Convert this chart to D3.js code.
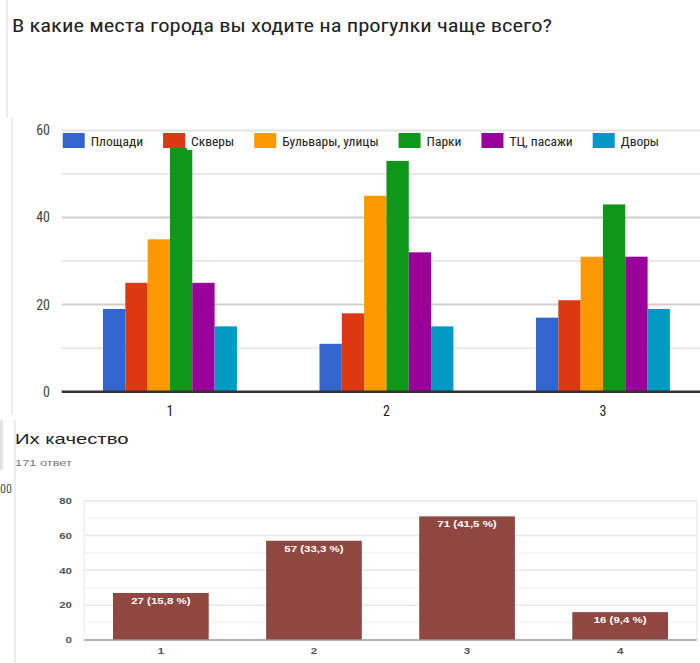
<!DOCTYPE html>
<html>
<head>
<meta charset="utf-8">
<script src="https://cdn.jsdelivr.net/npm/d3@7"></script>
<style>
  html, body { margin: 0; padding: 0; background: #fff; }
  svg { display: block; }
</style>
</head>
<body>
<script>
// --- data: top chart (places for walks) ---
const placeCategories = ["1", "2", "3"];
const seriesNames = ["Площади", "Скверы", "Бульвары, улицы", "Парки", "ТЦ, пасажи", "Дворы"];
const seriesColors = ["#3366cc", "#dc3912", "#ff9900", "#109618", "#990099", "#0099c6"];
const squaresVals = [19, 11, 17];
const publicGardensVals = [25, 18, 21];
const boulevardsVals = [35, 45, 31];
const parksVals = [56, 53, 43];
const mallsVals = [25, 32, 31];
const yardsVals = [15, 15, 19];
const seriesValues = [squaresVals, publicGardensVals, boulevardsVals, parksVals, mallsVals, yardsVals];
const placeTicks = [0, 20, 40, 60];

// --- data: bottom chart (quality) ---
const qualityCategories = ["1", "2", "3", "4"];
const qualityValues = [27, 57, 71, 16];
const qualityPercents = ["15,8", "33,3", "41,5", "9,4"];
const qualityTicks = [0, 20, 40, 60, 80];

const W = 700, H = 663;
const NARROW = '"Liberation Sans Narrow", "Arial Narrow", "Roboto Condensed", "Liberation Sans", sans-serif';
const SANS = 'Arial, "Liberation Sans", sans-serif';
const STRETCH = 1.35; // bottom screenshot is stretched horizontally

const svg = d3.select("body").append("svg")
  .attr("width", W).attr("height", H);

svg.append("rect").attr("width", W).attr("height", H).attr("fill", "#fff");

// left page edges (screenshot artefacts)
svg.append("line").attr("x1", 7).attr("x2", 7).attr("y1", 0).attr("y2", 118)
  .attr("stroke", "#e6e6e6").attr("stroke-width", 1.5);
svg.append("line").attr("x1", 12).attr("x2", 12).attr("y1", 118).attr("y2", 415)
  .attr("stroke", "#e6e6e6").attr("stroke-width", 1.5);
svg.append("line").attr("x1", 15).attr("x2", 15).attr("y1", 420).attr("y2", H)
  .attr("stroke", "#e6e6e6").attr("stroke-width", 1.5);
svg.append("rect").attr("x", 0).attr("y", 420).attr("width", 3).attr("height", 50).attr("fill", "#e2e2e2");
svg.append("text").attr("x", 0).attr("y", 493)
  .attr("font-family", NARROW).attr("font-size", 12).attr("fill", "#555").text("00");

// ---------------- top chart ----------------
svg.append("text")
  .attr("x", 12).attr("y", 32)
  .attr("font-family", NARROW).attr("font-size", 19).attr("fill", "#222")
  .attr("textLength", 540).attr("lengthAdjust", "spacingAndGlyphs")
  .text("В какие места города вы ходите на прогулки чаще всего?");

const topBox = { left: 61.7, right: 711.2, y0: 391.7, y60: 130.4 };

const x0 = d3.scaleBand().domain(placeCategories).range([topBox.left, topBox.right]).padding(0);
const x1 = d3.scaleBand().domain(seriesNames).range([0, x0.bandwidth()])
  .paddingInner(0).paddingOuter(1.85);
const y = d3.scaleLinear().domain([0, 60]).range([topBox.y0, topBox.y60]);

// gridlines
const gTop = svg.append("g");
gTop.selectAll("line.minor").data([10, 30, 50]).join("line")
  .attr("x1", topBox.left).attr("x2", W)
  .attr("y1", (d) => y(d)).attr("y2", (d) => y(d))
  .attr("stroke", "#e8e8e8").attr("stroke-width", 2);
gTop.selectAll("line.major").data([20, 40, 60]).join("line")
  .attr("x1", topBox.left).attr("x2", W)
  .attr("y1", (d) => y(d)).attr("y2", (d) => y(d))
  .attr("stroke", (d) => (d === 60 ? "#e4e4e4" : "#cfcfcf")).attr("stroke-width", 2);

// y axis labels
const yAxis = d3.axisLeft(y).tickValues(placeTicks).tickSize(0).tickPadding(0);
const yG = svg.append("g").attr("transform", `translate(50,0)`).call(yAxis);
yG.select(".domain").remove();
yG.selectAll("text").attr("font-family", NARROW).attr("font-size", 14).attr("fill", "#444");

// bars
const rows = placeCategories.map((c, i) => ({
  cat: c,
  vals: seriesNames.map((s, j) => ({ series: s, color: seriesColors[j], value: seriesValues[j][i] })),
}));
svg.append("g").selectAll("g").data(rows).join("g")
  .attr("transform", (d) => `translate(${x0(d.cat)},0)`)
  .selectAll("rect").data((d) => d.vals).join("rect")
  .attr("x", (d) => x1(d.series))
  .attr("y", (d) => y(d.value))
  .attr("width", x1.bandwidth())
  .attr("height", (d) => y(0) - y(d.value))
  .attr("fill", (d) => d.color);

// baseline
svg.append("line").attr("x1", topBox.left).attr("x2", W)
  .attr("y1", y(0)).attr("y2", y(0)).attr("stroke", "#333").attr("stroke-width", 2.5);

// x axis labels
const xAxis = d3.axisBottom(x0).tickSize(0).tickPadding(0);
const xG = svg.append("g").attr("transform", `translate(0,${y(0) + 24})`).call(xAxis);
xG.select(".domain").remove();
xG.selectAll("text").attr("font-family", NARROW).attr("font-size", 14).attr("fill", "#222").attr("dy", 0);

// legend
const legend = svg.append("g").attr("transform", "translate(62.7,133)");
let lx = 0;
seriesNames.forEach((name, i) => {
  const item = legend.append("g").attr("transform", `translate(${lx},0)`);
  item.append("rect").attr("width", 22).attr("height", 15).attr("fill", seriesColors[i]);
  const t = item.append("text").attr("x", 28).attr("y", 12.5)
    .attr("font-family", NARROW).attr("font-size", 13.5).attr("fill", "#222").text(name);
  const tw = t.node().getComputedTextLength();
  item.insert("rect", ":first-child").attr("x", 24).attr("y", 1).attr("width", tw + 10).attr("height", 16)
    .attr("fill", "#fff");
  lx += 28 + tw + 20;
});

// ---------------- bottom chart ----------------
function stretchText(sel) {
  sel.each(function () {
    const w = this.getComputedTextLength();
    d3.select(this).attr("textLength", w * STRETCH).attr("lengthAdjust", "spacingAndGlyphs");
  });
}

svg.append("text").attr("x", 15).attr("y", 444)
  .attr("font-family", SANS).attr("font-size", 15).attr("fill", "#222")
  .text("Их качество").call(stretchText);
svg.append("text").attr("x", 15).attr("y", 466)
  .attr("font-family", SANS).attr("font-size", 9.5).attr("fill", "#777")
  .text("171 ответ").call(stretchText);

const bot = { left: 84.3, right: 696.7, top: 500.7, bottom: 640 };
const xb = d3.scaleBand().domain(qualityCategories).range([bot.left, bot.right])
  .paddingInner(0.375).paddingOuter(0.1875);
const yb = d3.scaleLinear().domain([0, 80]).range([bot.bottom, bot.top]);

const gB = svg.append("g");
gB.selectAll("line.grid").data(d3.range(10, 81, 10)).join("line")
  .attr("x1", bot.left).attr("x2", bot.right)
  .attr("y1", (d) => yb(d)).attr("y2", (d) => yb(d))
  .attr("stroke", (d) => (d % 20 === 0 ? "#e8e8e8" : "#f3f3f3")).attr("stroke-width", 1.5);
gB.append("line").attr("x1", bot.left).attr("x2", bot.left).attr("y1", bot.top).attr("y2", bot.bottom)
  .attr("stroke", "#eeeeee").attr("stroke-width", 1.5);
gB.append("line").attr("x1", bot.right).attr("x2", bot.right).attr("y1", bot.top).attr("y2", bot.bottom)
  .attr("stroke", "#eeeeee").attr("stroke-width", 1.5);

const ybAxis = d3.axisLeft(yb).tickValues(qualityTicks).tickSize(0).tickPadding(0);
const ybG = svg.append("g").attr("transform", `translate(72,0)`).call(ybAxis);
ybG.select(".domain").remove();
ybG.selectAll("text").attr("font-family", SANS).attr("font-size", 8.5)
  .attr("font-weight", 700).attr("fill", "#555").call(stretchText);

const qData = qualityCategories.map((c, i) => ({ cat: c, value: qualityValues[i], pct: qualityPercents[i] }));
svg.append("g").selectAll("rect").data(qData).join("rect")
  .attr("x", (d) => xb(d.cat)).attr("y", (d) => yb(d.value))
  .attr("width", xb.bandwidth()).attr("height", (d) => yb(0) - yb(d.value))
  .attr("fill", "#8f4741");

svg.append("g").selectAll("text").data(qData).join("text")
  .attr("x", (d) => xb(d.cat) + xb.bandwidth() / 2)
  .attr("y", (d) => yb(d.value) + 11)
  .attr("text-anchor", "middle")
  .attr("font-family", SANS).attr("font-size", 8.5).attr("font-weight", 700).attr("fill", "#fff")
  .text((d) => `${d.value} (${d.pct} %)`).call(stretchText);

svg.append("line").attr("x1", bot.left).attr("x2", bot.right)
  .attr("y1", yb(0)).attr("y2", yb(0)).attr("stroke", "#999").attr("stroke-width", 1.5);

const xbAxis = d3.axisBottom(xb).tickSize(0).tickPadding(0);
const xbG = svg.append("g").attr("transform", `translate(0,${yb(0) + 14})`).call(xbAxis);
xbG.select(".domain").remove();
xbG.selectAll("text").attr("font-family", SANS).attr("font-size", 8.5)
  .attr("font-weight", 700).attr("fill", "#555").attr("dy", 0).call(stretchText);
</script>
</body>
</html>
